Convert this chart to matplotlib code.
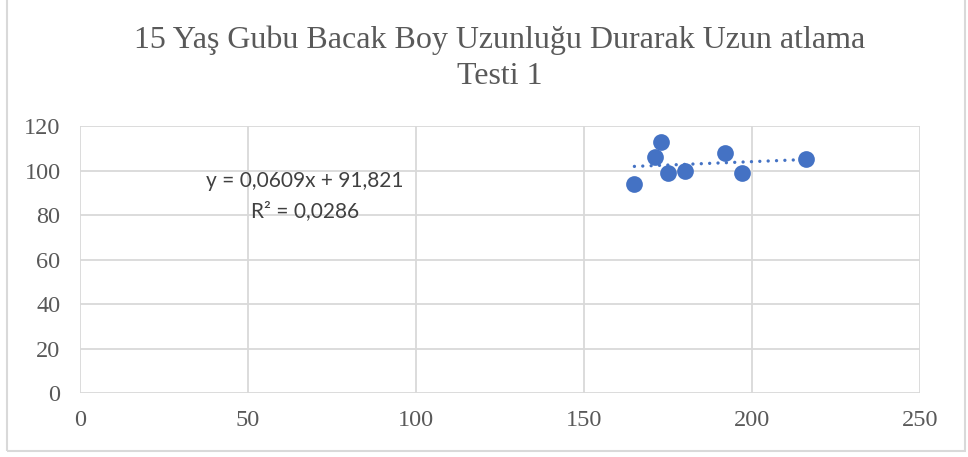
#!/usr/bin/env python3
"""Scatter with linear trendline, 15 year olds."""
import matplotlib
matplotlib.use("Agg")
import matplotlib.pyplot as plt
import numpy as np
from matplotlib.patches import Rectangle

# Data
boy = [165, 171, 173, 175, 180, 192, 197, 216]
atlama = [94, 106, 113, 99, 100, 108, 99, 105]
x_ticks = [0, 50, 100, 150, 200, 250]
y_ticks = [0, 20, 40, 60, 80, 100, 120]
title = "15 Yaş Gubu Bacak Boy Uzunluğu Durarak Uzun atlama\nTesti 1"

BLUE = "#4472C4"
GREY = "#595959"
GRID = "#D9D9D9"

fig = plt.figure(figsize=(9.68, 4.57), dpi=100)
ax = fig.add_axes([80 / 968, 1 - 393.3 / 457, 840 / 968, 267.3 / 457])

# chart border
fig.patches.append(Rectangle((7 / 968, 6 / 457), 958 / 968, 460 / 457,
                             transform=fig.transFigure, fill=False,
                             edgecolor="#D9D9D9", linewidth=1.5, clip_on=False))

ax.scatter(boy, atlama, s=145, color=BLUE, zorder=3, linewidths=0)

# linear trendline
slope, intercept = np.polyfit(boy, atlama, 1)
xs = np.array([min(boy), max(boy)])
ax.plot(xs, slope * xs + intercept, color=BLUE, linewidth=2.4,
        linestyle=(0, (0.01, 2.5)), dash_capstyle="round", zorder=2)

r2 = np.corrcoef(boy, atlama)[0, 1] ** 2
eq = f"y = {slope:.4f}x + {intercept:.3f}".replace(".", ",")
ax.text(0.267, 0.793, eq, transform=ax.transAxes, ha="center", va="center",
        fontsize=15, family="Lato", color="#404040")
ax.text(0.268, 0.68, f"R² = {r2:.4f}".replace(".", ","), transform=ax.transAxes,
        ha="center", va="center", fontsize=15, family="Lato", color="#404040")

ax.set_xlim(0, 250)
ax.set_ylim(0, 120)
ax.set_xticks(x_ticks)
ax.set_yticks(y_ticks)
ax.grid(True, color=GRID, linewidth=1.3)
ax.set_axisbelow(True)
for s in ax.spines.values():
    s.set_visible(False)
ax.tick_params(length=0, labelsize=17.5, labelcolor=GREY)
ax.tick_params(axis="x", pad=12)
ax.tick_params(axis="y", pad=14)
for lab in ax.get_xticklabels() + ax.get_yticklabels():
    lab.set_family("Liberation Serif")

fig.text(500 / 968, 1 - 58 / 457, title, ha="center", va="center",
         fontsize=23, family="Liberation Serif", color=GREY, linespacing=1.3)

fig.savefig("out.png", dpi=100)
